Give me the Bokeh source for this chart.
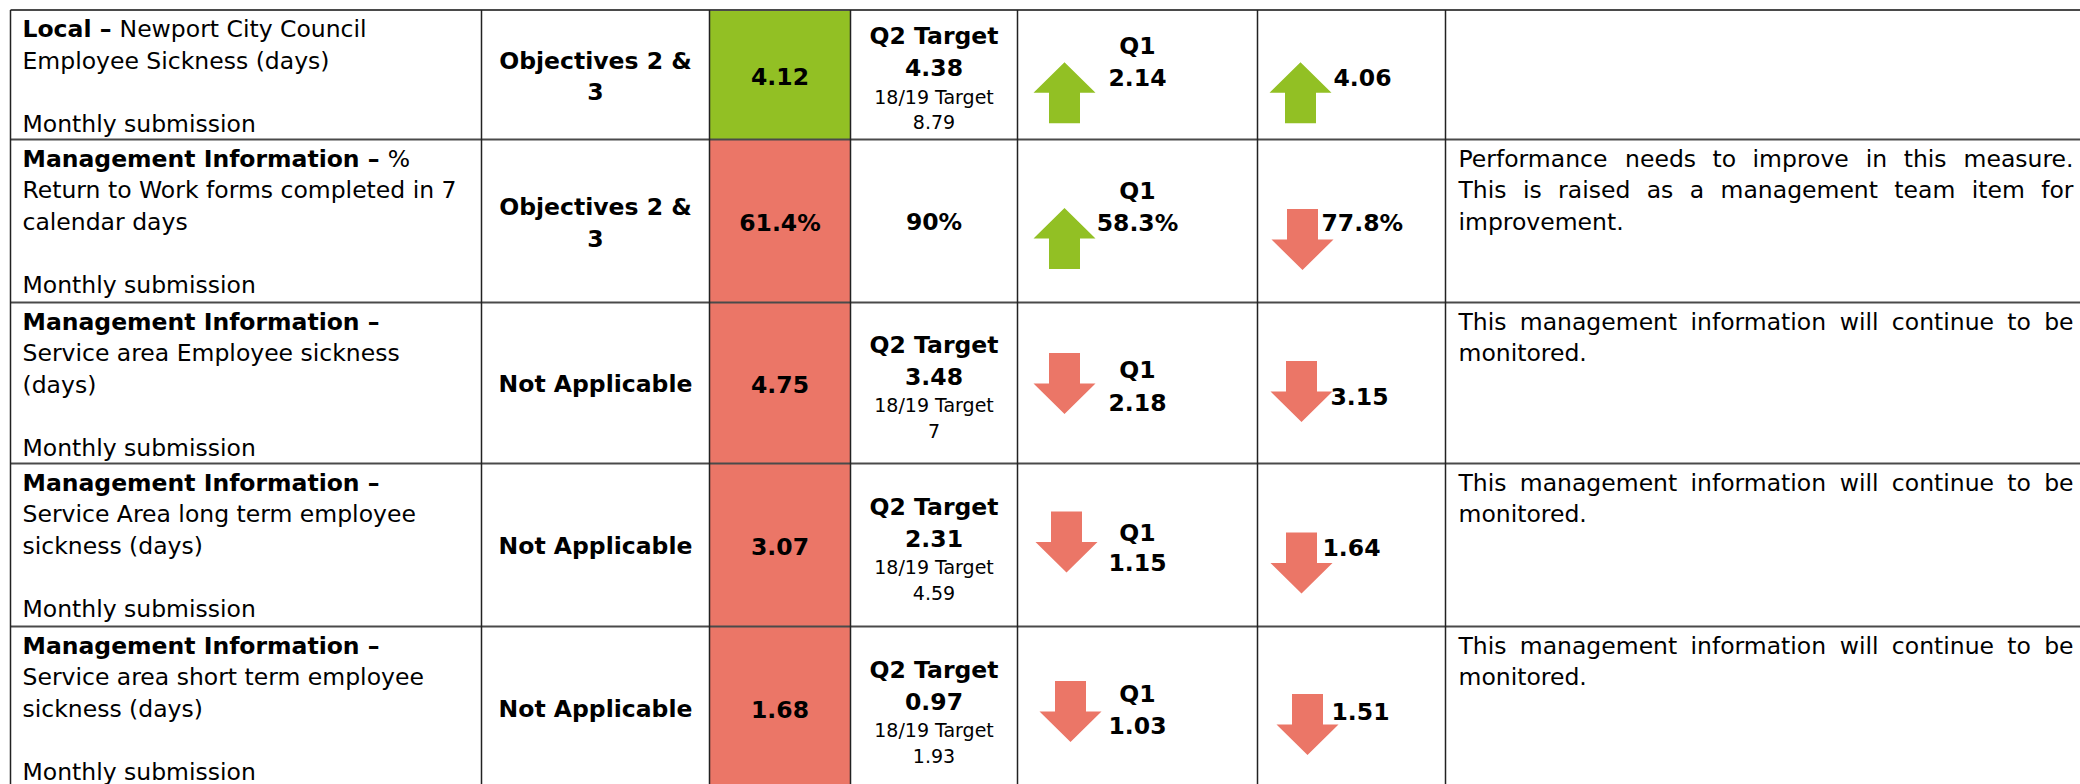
from bokeh.plotting import figure
from bokeh.models import Range1d, ColumnDataSource
from bokeh.core.properties import value
from bokeh.embed import file_html
from bokeh.resources import INLINE

# ---------------- data ----------------
measure_lead = ["Local –", "Management Information –", "Management Information –",
                "Management Information –", "Management Information –"]
measure_lead_tail = ["Newport City Council", "%", "", "", ""]
measure_desc = [
    ["Employee Sickness (days)"],
    ["Return to Work forms completed in 7", "calendar days"],
    ["Service area Employee sickness", "(days)"],
    ["Service Area long term employee", "sickness (days)"],
    ["Service area short term employee", "sickness (days)"],
]
submission = ["Monthly submission"] * 5
objectives = [["Objectives 2 &", "3"], ["Objectives 2 &", "3"],
              ["Not Applicable"], ["Not Applicable"], ["Not Applicable"]]
actual = ["4.12", "61.4%", "4.75", "3.07", "1.68"]
actual_status = ["green", "red", "red", "red", "red"]
q2_label = ["Q2 Target", "", "Q2 Target", "Q2 Target", "Q2 Target"]
q2_target = ["4.38", "90%", "3.48", "2.31", "0.97"]
annual_label = ["18/19 Target", "", "18/19 Target", "18/19 Target", "18/19 Target"]
annual_target = ["8.79", "", "7", "4.59", "1.93"]
q1_label = ["Q1", "Q1", "Q1", "Q1", "Q1"]
q1_value = ["2.14", "58.3%", "2.18", "1.15", "1.03"]
q1_trend = ["up", "up", "down", "down", "down"]
prev_value = ["4.06", "77.8%", "3.15", "1.64", "1.51"]
prev_trend = ["up", "down", "down", "down", "down"]
comments = [
    [],
    ["Performance needs to improve in this measure.",
     "This is raised as a management team item for",
     "improvement."],
    ["This management information will continue to be", "monitored."],
    ["This management information will continue to be", "monitored."],
    ["This management information will continue to be", "monitored."],
]

# ---------------- layout / style ----------------
W, H = 2080, 784
GREEN = "#92C024"
RED = "#EB7667"
STATUS_COLOR = {"green": GREEN, "red": RED}
TREND_COLOR = {"up": GREEN, "down": RED}
FONT = value("DejaVu Sans")
REG = 23.5
SMALL = 19
LINE = 31.7
DY = {REG: -8.0, SMALL: -6.5}   # baseline correction

COL_X = [10, 481, 709, 850, 1017, 1257, 1445, 2100]
TOP0 = 9.5
ROW_H = [129.5, 163, 161, 163, 163]
row_top = []
t = TOP0
for h in ROW_H:
    row_top.append(t)
    t += h
row_bot = [rt + h for rt, h in zip(row_top, ROW_H)]
row_c = [(a + b) / 2 for a, b in zip(row_top, row_bot)]

Q1_ARROW = [(1064, -12.5), (1064, -13), (1064, -30), (1066, -33.5), (1070, -27)]
PREV_ARROW = [(1300, -12.5), (1302, -12), (1301, -22), (1301, -12.5), (1307, -14)]
Q1_TEXT_Y = [(-20.7, 11), (-22, 9.7), (-5.5, 27.8), (-4.5, 25.5), (-6.5, 25)]
PREV_TEXT = [(1333, 11), (1321, 9.5), (1330, 21), (1322, 10.5), (1331, 11.8)]

# DejaVu Sans advance widths (em)
W_REG = {" ": .318, ".": .318, "%": .950, "(": .390, ")": .390, "/": .337,
         "T": .611, "P": .603, "a": .613, "b": .635, "c": .550, "d": .635, "e": .615,
         "f": .352, "g": .635, "h": .634, "i": .278, "j": .278, "k": .579, "l": .278,
         "m": .974, "n": .634, "o": .612, "p": .635, "q": .635, "r": .411, "s": .521,
         "t": .392, "u": .634, "v": .592, "w": .818, "x": .592, "y": .592, "z": .525}
W_BOLD = {" ": .348, "L": .637, "o": .687, "c": .593, "a": .675, "l": .343, "–": .500,
          "M": .995, "n": .712, "g": .716, "e": .678, "m": 1.042, "t": .478, "I": .372,
          "f": .435, "r": .493, "i": .343}


def width(s, table, size):
    return sum(table.get(ch, 0.62) for ch in s) * size


p = figure(width=W, height=H, x_range=Range1d(0, W), y_range=Range1d(H, 0),
           output_backend="svg", toolbar_location=None, min_border=0,
           x_axis_location=None, y_axis_location=None)
p.grid.visible = False
p.outline_line_color = None
p.background_fill_color = "white"
p.border_fill_color = "white"

# status cells
p.quad(left=[COL_X[2]] * 5, right=[COL_X[3]] * 5, top=row_top, bottom=row_bot,
       fill_color=[STATUS_COLOR[s] for s in actual_status], line_color=None)

# arrows
xs, ys, cs = [], [], []
for i in range(5):
    for (cx, off), d in ((Q1_ARROW[i], q1_trend[i]), (PREV_ARROW[i], prev_trend[i])):
        yt = row_c[i] + off
        hw, sw, hh, AH = 31, 15.5, 30.5, 61
        if d == "up":
            px = [cx, cx + hw, cx + sw, cx + sw, cx - sw, cx - sw, cx - hw]
            py = [yt, yt + hh, yt + hh, yt + AH, yt + AH, yt + hh, yt + hh]
        else:
            px = [cx - sw, cx + sw, cx + sw, cx + hw, cx, cx - hw, cx - sw]
            py = [yt, yt, yt + AH - hh, yt + AH - hh, yt + AH, yt + AH - hh, yt + AH - hh]
        xs.append(px)
        ys.append(py)
        cs.append(TREND_COLOR[d])
p.patches(xs=xs, ys=ys, fill_color=cs, line_color=None)

# grid lines
hy = [TOP0] + row_bot
p.segment(x0=[COL_X[0]] * len(hy), x1=[2100] * len(hy), y0=hy, y1=hy,
          line_color="#4a4a4a", line_width=2)
vx = COL_X[:-1]
p.segment(x0=vx, x1=vx, y0=[TOP0] * len(vx), y1=[800] * len(vx),
          line_color="#222222", line_width=1.5)

# text collections
groups = {}
STYLES = {
    "reg_left": dict(text_font_style="normal", text_align="left", size=REG),
    "reg_right": dict(text_font_style="normal", text_align="right", size=REG),
    "bold_left": dict(text_font_style="bold", text_align="left", size=REG),
    "bold_center": dict(text_font_style="bold", text_align="center", size=REG),
    "small_center": dict(text_font_style="normal", text_align="center", size=SMALL),
}


def add(key, x, y, s):
    g = groups.setdefault(key, {"x": [], "y": [], "text": []})
    g["x"].append(x)
    g["y"].append(y + DY[STYLES[key]["size"]])
    g["text"].append(s)


TX = 22
for i in range(5):
    rt, rc = row_top[i], row_c[i]

    def base(k, rt=rt):
        return rt + 27 + k * LINE

    # measure column
    add("bold_left", TX, base(0), measure_lead[i])
    if measure_lead_tail[i]:
        add("reg_left", TX + width(measure_lead[i] + " ", W_BOLD, REG), base(0), measure_lead_tail[i])
    for k, line in enumerate(measure_desc[i]):
        add("reg_left", TX, base(1 + k), line)
    add("reg_left", TX, base(2 + len(measure_desc[i])), submission[i])
    # objectives
    ox = (COL_X[1] + COL_X[2]) / 2
    if len(objectives[i]) == 2:
        add("bold_center", ox, rc - 6, objectives[i][0])
        add("bold_center", ox, rc + 25, objectives[i][1])
    else:
        add("bold_center", ox, rc + 9, objectives[i][0])
    # actual
    add("bold_center", (COL_X[2] + COL_X[3]) / 2, rc + 9.5, actual[i])
    # targets
    tx = (COL_X[3] + COL_X[4]) / 2
    if q2_label[i]:
        add("bold_center", tx, rc - 30.5, q2_label[i])
        add("bold_center", tx, rc + 1, q2_target[i])
        add("small_center", tx, rc + 28.5, annual_label[i])
        add("small_center", tx, rc + 54, annual_target[i])
    else:
        add("bold_center", tx, rc + 9, q2_target[i])
    # Q1
    a, b = Q1_TEXT_Y[i]
    add("bold_center", 1137, rc + a, q1_label[i])
    add("bold_center", 1137, rc + b, q1_value[i])
    # previous
    px_, py_ = PREV_TEXT[i]
    add("bold_left", px_, rc + py_, prev_value[i])
    # comments (justified)
    left, right = 1458, 2073
    lines = comments[i]
    for k, line in enumerate(lines):
        y = base(k)
        if k == len(lines) - 1:
            add("reg_left", left, y, line)
            continue
        words = line.split(" ")
        ws = [width(w, W_REG, REG) for w in words]
        gap = (right - left - sum(ws)) / (len(words) - 1)
        x = left
        for j, (w, wd) in enumerate(zip(words, ws)):
            if j == len(words) - 1:
                add("reg_right", right, y, w)
            else:
                add("reg_left", x, y, w)
            x += wd + gap

for key, g in groups.items():
    st = STYLES[key]
    p.text(x="x", y="y", text="text", source=ColumnDataSource(g),
           text_font=FONT, text_font_size=value(f"{st['size']}px"),
           text_font_style=st["text_font_style"], text_align=st["text_align"],
           text_baseline="alphabetic", text_color="black")

open("out.html", "w").write(file_html(p, INLINE))
